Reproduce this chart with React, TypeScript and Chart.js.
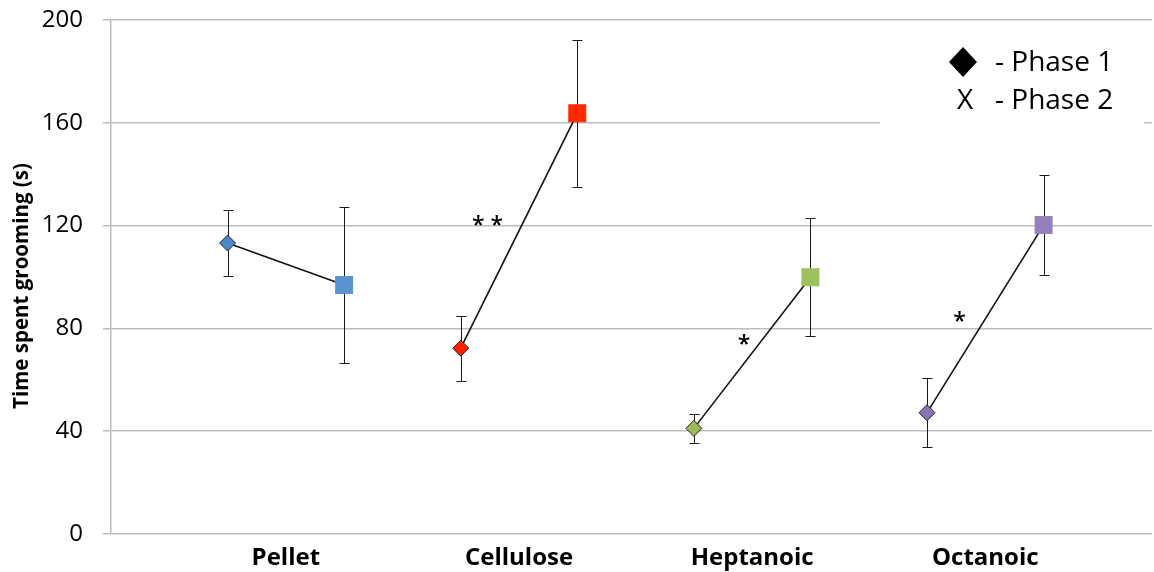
import React, { useEffect, useRef } from "react";
import { Chart, registerables } from "chart.js";

Chart.register(...registerables);

const categories = ["Pellet", "Cellulose", "Heptanoic", "Octanoic"];
const phase1 = [113.2, 72.3, 41.1, 47.2];
const phase2 = [96.9, 163.7, 99.9, 120.2];
const phase1Err = [13, 12.7, 5.6, 13.5];
const phase2Err = [30.5, 28.7, 23, 19.5];
const phase1Colors = ["#4F86C6", "#FF2200", "#9BBB59", "#8C74B4"];
const phase2Colors = ["#5A94D0", "#FF2A00", "#9FC05E", "#9580BC"];
const yMin = 0;
const yMax = 200;
const yStep = 40;
const sigLabels = ["* *", "*", "*"];
const sigX = [3.23, 5.43, 7.28];
const sigY = [122.2, 75.9, 84.8];
const legendLabels = ["- Phase 1", "- Phase 2"];
const yTitle = "Time spent grooming (s)";

const FONT = "'Open Sans', 'DejaVu Sans', sans-serif";

const overlayPlugin = {
  id: "overlay",
  beforeDatasetsDraw(chart: any) {
    const { ctx } = chart;
    const xs = chart.scales.x;
    const ys = chart.scales.y;
    ctx.save();
    // legend background (covers gridline like the original)
    ctx.fillStyle = "#ffffff";
    ctx.fillRect(880, 24, 264, 102);
    // error bars
    ctx.strokeStyle = "#1a1a1a";
    ctx.lineWidth = 1;
    const cap = 5;
    const drawBar = (xv: number, v: number, e: number) => {
      const px = Math.round(xs.getPixelForValue(xv)) + 0.5;
      const top = Math.round(ys.getPixelForValue(v + e)) + 0.5;
      const bot = Math.round(ys.getPixelForValue(v - e)) + 0.5;
      ctx.beginPath();
      ctx.moveTo(px, top);
      ctx.lineTo(px, bot);
      ctx.moveTo(px - cap, top);
      ctx.lineTo(px + cap, top);
      ctx.moveTo(px - cap, bot);
      ctx.lineTo(px + cap, bot);
      ctx.stroke();
    };
    categories.forEach((_, i) => {
      drawBar(2 * i + 1, phase1[i], phase1Err[i]);
      drawBar(2 * i + 2, phase2[i], phase2Err[i]);
    });
    ctx.restore();
  },
  afterDraw(chart: any) {
    const { ctx } = chart;
    const xs = chart.scales.x;
    const ys = chart.scales.y;
    ctx.save();
    // y-axis title
    ctx.fillStyle = "#000";
    ctx.font = `bold 20.5px ${FONT}`;
    ctx.textAlign = "center";
    ctx.textBaseline = "alphabetic";
    ctx.translate(28, (ys.top + ys.bottom) / 2 + 9);
    ctx.rotate(-Math.PI / 2);
    ctx.fillText(yTitle, 0, 0);
    ctx.setTransform(1, 0, 0, 1, 0, 0);
    // significance marks
    ctx.font = `600 23px ${FONT}`;
    sigLabels.forEach((s, i) => {
      const px = xs.getPixelForValue(sigX[i]);
      const py = ys.getPixelForValue(sigY[i]);
      ctx.fillText(s, px, py + 13);
    });
    // legend
    ctx.beginPath();
    ctx.moveTo(963, 47);
    ctx.lineTo(977, 62);
    ctx.lineTo(963, 77);
    ctx.lineTo(949, 62);
    ctx.closePath();
    ctx.fill();
    ctx.font = `28px ${FONT}`;
    ctx.textAlign = "center";
    ctx.fillText("X", 965, 109);
    ctx.textAlign = "left";
    ctx.fillText(legendLabels[0], 995, 71);
    ctx.fillText(legendLabels[1], 995, 109);
    ctx.restore();
  },
};

export default function App() {
  const ref = useRef<HTMLCanvasElement | null>(null);

  useEffect(() => {
    if (!ref.current) return;
    const datasets: any[] = categories.map((c, i) => ({
      label: c,
      data: [
        { x: 2 * i + 1, y: phase1[i] },
        { x: 2 * i + 2, y: phase2[i] },
      ],
      showLine: true,
      borderColor: "#111",
      borderWidth: 1.6,
      pointStyle: ["rectRot", "rect"],
      pointRadius: [8, 12],
      pointBackgroundColor: [phase1Colors[i], phase2Colors[i]],
      pointBorderColor: ["#222", phase2Colors[i]],
      pointBorderWidth: [1, 1],
    }));
    datasets.push({
      label: "cross",
      data: categories.map((_, i) => ({ x: 2 * i + 2, y: phase2[i] })),
      showLine: false,
      pointStyle: "crossRot",
      pointRadius: 12,
      pointBorderColor: "#111",
      pointBorderWidth: 1.2,
      backgroundColor: "transparent",
    });

    const chart = new Chart(ref.current, {
      type: "scatter",
      data: { datasets },
      plugins: [overlayPlugin],
      options: {
        responsive: false,
        animation: false,
        events: [],
        layout: { autoPadding: false, padding: { top: 20, right: 2, bottom: 0, left: 0 } },
        plugins: {
          legend: { display: false },
          tooltip: { enabled: false },
        },
        scales: {
          x: {
            type: "linear",
            min: 0,
            max: 8.93,
            grid: { display: false, drawTicks: false },
            border: { display: false },
            afterBuildTicks: (scale: any) => {
              scale.ticks = categories.map((_, i) => ({ value: 2 * i + 1.5 }));
            },
            afterFit: (scale: any) => {
              scale.height = 38;
              scale.paddingLeft = 0;
              scale.paddingRight = 0;
            },
            ticks: {
              autoSkip: false,
              maxRotation: 0,
              padding: 10,
              color: "#000",
              font: { family: FONT, size: 24, weight: "bold" },
              callback: (v: any) => {
                const idx = Math.round((Number(v) - 1.5) / 2);
                return categories[idx] ?? "";
              },
            },
          },
          y: {
            min: yMin,
            max: yMax,
            grid: { color: "#BDBDBD", lineWidth: 1.5, tickLength: 8 },
            border: { color: "#BDBDBD", width: 1.5 },
            afterFit: (scale: any) => {
              scale.width = 111;
              scale.paddingTop = 0;
              scale.paddingBottom = 0;
            },
            ticks: {
              stepSize: yStep,
              padding: 20,
              color: "#000",
              font: { family: FONT, size: 24 },
            },
            title: { display: false },
          },
        },
      },
    });
    return () => chart.destroy();
  }, []);

  return (
    <div style={{ position: "absolute", left: 0, top: 0, width: 1154, height: 572, background: "#fff" }}>
      <canvas ref={ref} width={1154} height={572} style={{ display: "block" }} />
    </div>
  );
}
